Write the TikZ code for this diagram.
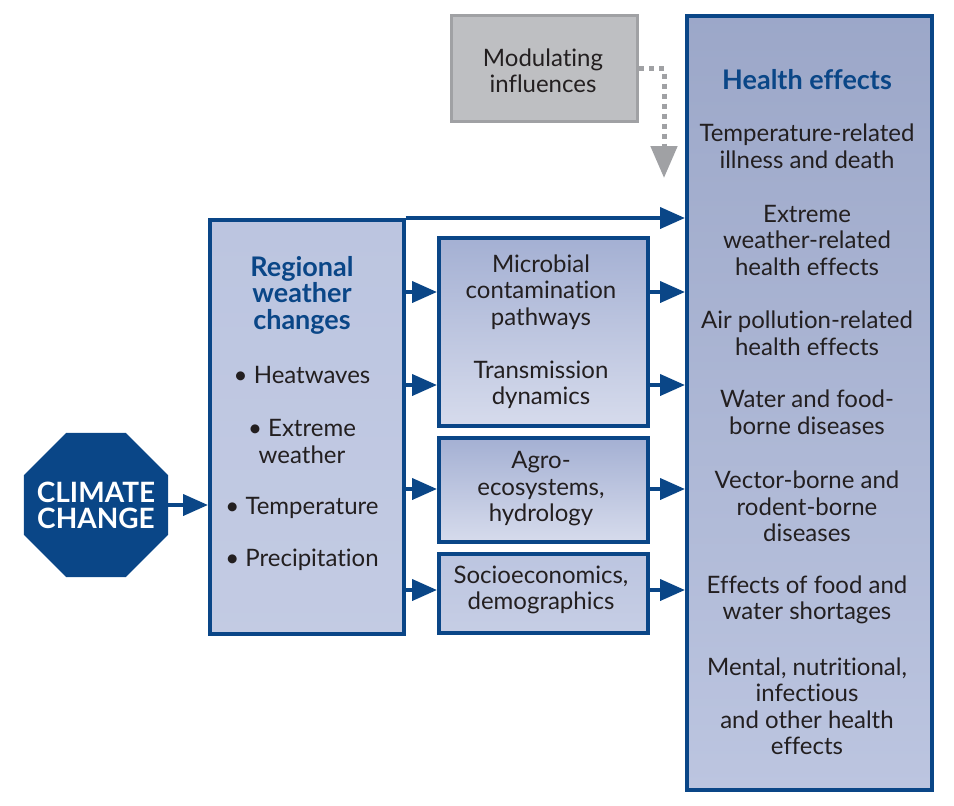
\documentclass[tikz,border=0pt]{standalone}
\usepackage{fontspec}
\setmainfont{Lato}[Ligatures={NoCommon}]
\usetikzlibrary{shapes.geometric,arrows.meta,positioning}

\definecolor{cblue}{RGB}{10,70,135}
\definecolor{ctext}{RGB}{35,31,32}
\definecolor{cgray}{RGB}{160,161,164}
\definecolor{cgrayfill}{RGB}{190,191,194}
\definecolor{ptop}{RGB}{164,176,211}
\definecolor{pbot}{RGB}{214,219,236}
\definecolor{pmid}{RGB}{188,197,224}

\begin{document}
\begin{tikzpicture}[
    x=1pt, y=-1pt,
    panel/.style={rectangle, draw=cblue, line width=3.5pt, inner sep=0pt, anchor=north west,
                  top color=ptop, bottom color=pbot},
    flatpanel/.style={panel, top color=pmid, bottom color=pmid!85!white},
    txt/.style={align=center, inner sep=0pt, text=ctext, font=\fontsize{24}{26.5}\selectfont},
    head/.style={txt, text=cblue, font=\fontsize{27}{26.5}\selectfont\bfseries},
    arrow/.style={-{Triangle[length=25pt,width=21pt]}, line width=4pt, draw=cblue},
    dotarrow/.style={-{Triangle[length=32pt,width=26pt]}, line width=5pt, draw=cgray,
                     dash pattern=on 5pt off 5pt}
]
    \useasboundingbox (0,0) rectangle (954,806);

    % boxes
    \node[panel, minimum width=245pt, minimum height=774pt, top color=ptop!95!black, bottom color=pmid] (health) at (685,14) {};
    \node[panel, minimum width=194pt, minimum height=414pt, top color=pmid, bottom color=pmid!90!white] (reg) at (208,218) {};
    \node[panel, minimum width=209pt, minimum height=188pt] (mid1) at (437,236) {};
    \node[panel, minimum width=209pt, minimum height=104pt] (mid2) at (437,436) {};
    \node[flatpanel, minimum width=209pt, minimum height=79pt] (mid3) at (437,552) {};
    \node[rectangle, draw=cgray, line width=3pt, fill=cgrayfill, anchor=north west,
          minimum width=186pt, minimum height=106pt] (mod) at (450,14) {};

    \node[regular polygon, regular polygon sides=8, fill=cblue, inner sep=0pt,
          minimum size=156pt] (clim) at (96,505) {};
    \node[align=center, text=white, inner sep=0pt,
          font=\fontsize{28}{26}\selectfont\bfseries] (climtxt) at (clim.center) {CLIMATE\\CHANGE};

    % texts
    \node[txt] (modtxt) at (543,71) {Modulating\\influences};

    \node[head] (hhead) at (807,80) {Health effects};
    \node[txt] (htemp) at (807,146.5) {Temperature-related\\illness and death};
    \node[txt] (hext) at (807,240) {Extreme\\weather-related\\health effects};
    \node[txt] (hair) at (807,333.5) {Air pollution-related\\health effects};
    \node[txt] (hwater) at (807,412.5) {Water and food-\\borne diseases};
    \node[txt] (hvec) at (807,506.5) {Vector-borne and\\rodent-borne\\diseases};
    \node[txt] (hfood) at (807,600) {Effects of food and\\water shortages};
    \node[txt] (hment) at (807,706.5) {Mental, nutritional,\\infectious\\and other health\\effects};

    \node[head] (rhead) at (302,295) {Regional\\weather\\changes};
    \node[txt] (rheat) at (302,375) {\textbullet\ Heatwaves};
    \node[txt] (rext) at (302,441.5) {\textbullet\ Extreme\\weather};
    \node[txt] (rtemp) at (302,508) {\textbullet\ Temperature};
    \node[txt] (rprec) at (302,560) {\textbullet\ Precipitation};

    \node[txt] (micro) at (541,292) {Microbial\\contamination\\pathways};
    \node[txt] (trans) at (541,385) {Transmission\\dynamics};
    \node[txt] (agro) at (541,489) {Agro-\\ecosystems,\\hydrology};
    \node[txt] (socio) at (541,590) {Socioeconomics,\\demographics};

    % connectors
    \draw[arrow] (clim.east) -- (reg.west |- clim);
    \draw[arrow] (reg.north east) -- (health.west |- reg.north east);
    \foreach \t/\b in {micro/mid1, trans/mid1, agro/mid2, socio/mid3} {
        \draw[arrow] (reg.east |- \t) -- (\b.west |- \t);
        \draw[arrow] (\b.east |- \t) -- (health.west |- \t);
    }

    \coordinate (modtip) at (664,178);
    \draw[dotarrow] (mod.east) -| (modtip);
\end{tikzpicture}
\end{document}
